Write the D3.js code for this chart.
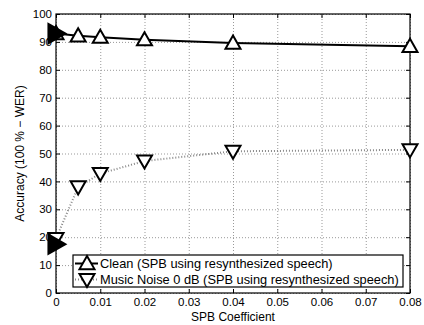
<!DOCTYPE html>
<html>
<head>
<meta charset="utf-8">
<script src="https://cdn.jsdelivr.net/npm/d3@7"></script>
<style>
  body { margin: 0; background: #fff; }
  text { font-family: "Liberation Sans", Arial, sans-serif; }
</style>
</head>
<body>
<svg id="chart" width="424" height="325"></svg>
<script>
const xValues = [0, 0.005, 0.01, 0.02, 0.04, 0.08];
const cleanValues = [93, 92.2, 91.7, 90.8, 89.6, 88.4];
const musicValues = [19.5, 38, 42.8, 47.3, 50.8, 51.3];
const baselineX = [0];
const cleanBaseline = [93];
const musicBaseline = [17.5];
const xTicks = [0, 0.01, 0.02, 0.03, 0.04, 0.05, 0.06, 0.07, 0.08];
const yTicks = [0, 10, 20, 30, 40, 50, 60, 70, 80, 90, 100];
const seriesNames = [
  "Clean (SPB using resynthesized speech)",
  "Music Noise 0 dB (SPB using resynthesized speech)"
];

const svg = d3.select("#chart");
const margin = { top: 14, right: 14, bottom: 32, left: 56 };
const width = +svg.attr("width");
const height = +svg.attr("height");
const chartWidth = width - margin.left - margin.right;
const chartHeight = height - margin.top - margin.bottom;

const xScale = d3.scaleLinear().domain([0, 0.08]).range([0, chartWidth]);
const yScale = d3.scaleLinear().domain([0, 100]).range([chartHeight, 0]);

const g = svg.append("g").attr("transform", `translate(${margin.left},${margin.top})`);

// gridlines
g.append("g")
  .attr("transform", `translate(0,${chartHeight})`)
  .call(d3.axisBottom(xScale).tickValues(xTicks).tickSize(-chartHeight).tickFormat(""))
  .call((s) => s.select(".domain").remove())
  .selectAll("line")
  .attr("stroke", "#999")
  .attr("stroke-dasharray", "1,2");
g.append("g")
  .call(d3.axisLeft(yScale).tickValues(yTicks).tickSize(-chartWidth).tickFormat(""))
  .call((s) => s.select(".domain").remove())
  .selectAll("line")
  .attr("stroke", "#999")
  .attr("stroke-dasharray", "1,2");

// axes with inward ticks
function styleAxis(s) {
  s.select(".domain").remove();
  s.selectAll("line").attr("stroke", "#000");
  s.selectAll("text").attr("fill", "#000").style("font-size", "11.5px");
}
g.append("g")
  .attr("transform", `translate(0,${chartHeight})`)
  .call(d3.axisBottom(xScale).tickValues(xTicks).tickSize(-4).tickPadding(5).tickFormat((d) => d === 0 ? "0" : d3.format(".2f")(d)))
  .call(styleAxis);
g.append("g")
  .call(d3.axisTop(xScale).tickValues(xTicks).tickSize(-4).tickFormat(""))
  .call(styleAxis);
g.append("g")
  .call(d3.axisLeft(yScale).tickValues(yTicks).tickSize(-4).tickPadding(4))
  .call(styleAxis);
g.append("g")
  .attr("transform", `translate(${chartWidth},0)`)
  .call(d3.axisRight(yScale).tickValues(yTicks).tickSize(-4).tickFormat(""))
  .call(styleAxis);

g.append("rect")
  .attr("width", chartWidth)
  .attr("height", chartHeight)
  .attr("fill", "none")
  .attr("stroke", "#000")
  .attr("stroke-width", 1.2);

// lines
const line = d3.line().x((d) => xScale(d[0])).y((d) => yScale(d[1]));
const cleanData = xValues.map((x, i) => [x, cleanValues[i]]);
const musicData = xValues.map((x, i) => [x, musicValues[i]]);

g.append("path")
  .datum(musicData)
  .attr("d", line)
  .attr("fill", "none")
  .attr("stroke", "#888")
  .attr("stroke-width", 2)
  .attr("stroke-dasharray", "1,2");
g.append("path")
  .datum(cleanData)
  .attr("d", line)
  .attr("fill", "none")
  .attr("stroke", "#000")
  .attr("stroke-width", 2);

// markers
function triUp(s) { return `M0,${-s * 0.6}L${s * 0.6},${s * 0.45}L${-s * 0.6},${s * 0.45}Z`; }
function triDown(s) { return `M0,${s * 0.6}L${s * 0.6},${-s * 0.45}L${-s * 0.6},${-s * 0.45}Z`; }
function triRight(s) { return `M${s * 0.6},0L${-s * 0.45},${s * 0.6}L${-s * 0.45},${-s * 0.6}Z`; }

g.selectAll(".m-clean")
  .data(cleanData)
  .join("path")
  .attr("transform", (d) => `translate(${xScale(d[0])},${yScale(d[1])})`)
  .attr("d", triUp(12.5))
  .attr("fill", "#fff")
  .attr("stroke", "#000")
  .attr("stroke-width", 2);
g.selectAll(".m-music")
  .data(musicData)
  .join("path")
  .attr("transform", (d) => `translate(${xScale(d[0])},${yScale(d[1])})`)
  .attr("d", triDown(12.5))
  .attr("fill", "#fff")
  .attr("stroke", "#000")
  .attr("stroke-width", 2);

const baselines = [
  [baselineX[0], cleanBaseline[0]],
  [baselineX[0], musicBaseline[0]]
];
g.selectAll(".m-base")
  .data(baselines)
  .join("path")
  .attr("transform", (d) => `translate(${xScale(d[0])},${yScale(d[1])})`)
  .attr("d", triRight(19))
  .attr("fill", "#000");

// legend
const legend = svg.append("g").attr("transform", "translate(73,255)");
legend.append("rect")
  .attr("width", 330)
  .attr("height", 32)
  .attr("fill", "#fff")
  .attr("stroke", "#000")
  .attr("stroke-width", 1.2);
seriesNames.forEach((name, i) => {
  const y = 8.5 + i * 16;
  const row = legend.append("g").attr("transform", `translate(0,${y})`);
  row.append("line")
    .attr("x1", 2).attr("x2", 25)
    .attr("stroke", i === 0 ? "#000" : "#888")
    .attr("stroke-width", 2)
    .attr("stroke-dasharray", i === 0 ? null : "1,2");
  row.append("path")
    .attr("transform", "translate(14,0)")
    .attr("d", i === 0 ? triUp(12.5) : triDown(12.5))
    .attr("fill", "#fff")
    .attr("stroke", "#000")
    .attr("stroke-width", 2);
  row.append("text")
    .attr("x", 27)
    .attr("dy", "0.35em")
    .style("font-size", "12.8px")
    .text(name);
});

// axis labels
svg.append("text")
  .attr("x", margin.left + chartWidth / 2)
  .attr("y", 321)
  .attr("text-anchor", "middle")
  .style("font-size", "12px")
  .text("SPB Coefficient");
svg.append("text")
  .attr("transform", "rotate(-90)")
  .attr("x", -(margin.top + chartHeight / 2))
  .attr("y", 24)
  .attr("text-anchor", "middle")
  .style("font-size", "12px")
  .text("Accuracy (100 % \u2212 WER)");
</script>
</body>
</html>
